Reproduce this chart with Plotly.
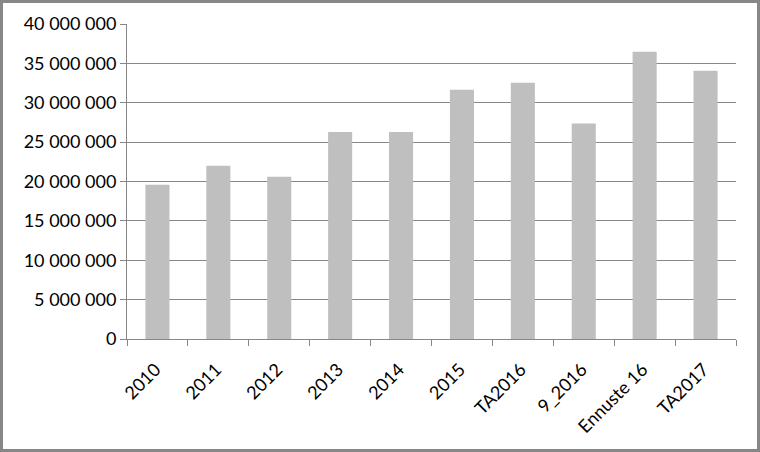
import plotly.graph_objects as go

categories = ["2010", "2011", "2012", "2013", "2014", "2015", "TA2016", "9_2016", "Ennuste 16", "TA2017"]
values = [19600000, 22000000, 20600000, 26300000, 26300000, 31650000, 32550000, 27350000, 36480000, 34070000]
y_ticks = [0, 5000000, 10000000, 15000000, 20000000, 25000000, 30000000, 35000000, 40000000]

W, H = 760, 452
L, R, T, B = 127, 24, 24, 113
pw, ph = W - L - R, H - T - B

fig = go.Figure(go.Bar(x=categories, y=values, marker=dict(color="#bfbfbf", line=dict(width=0))))

grid = "#878787"
fig.update_layout(
    width=W, height=H,
    margin=dict(l=L, r=R, t=T, b=B, pad=0),
    paper_bgcolor="white", plot_bgcolor="white",
    bargap=0.605,
    separators=". ",
    showlegend=False,
    font=dict(family="Lato, Open Sans, sans-serif", size=17, color="#000000"),
    xaxis=dict(
        type="category", tickangle=-45, tickson="boundaries",
        ticks="outside", ticklen=6, tickcolor=grid, tickwidth=1,
        showline=True, linecolor=grid, linewidth=1, showgrid=False,
        tickfont=dict(size=18), ticklabelstandoff=12, ticklabelshift=-2,
    ),
    yaxis=dict(
        range=[0, 40000000], tickvals=y_ticks, tickformat=",d",
        ticks="outside", ticklen=6, tickcolor=grid, tickwidth=1,
        showline=True, linecolor=grid, linewidth=1,
        showgrid=True, gridcolor=grid, gridwidth=1, zeroline=False,
        tickfont=dict(size=18),
    ),
    shapes=[dict(
        type="rect", xref="paper", yref="paper",
        x0=-(L - 1.5) / pw, x1=1 + (R - 1.5) / pw,
        y0=-(B - 1.5) / ph, y1=1 + (T - 1.5) / ph,
        line=dict(color="#878787", width=3), fillcolor="rgba(0,0,0,0)", layer="above",
    )],
)

fig.write_html(
    "out.html",
    config={"displayModeBar": False},
    post_script="document.body.style.margin='0';document.body.style.overflow='hidden';",
)
